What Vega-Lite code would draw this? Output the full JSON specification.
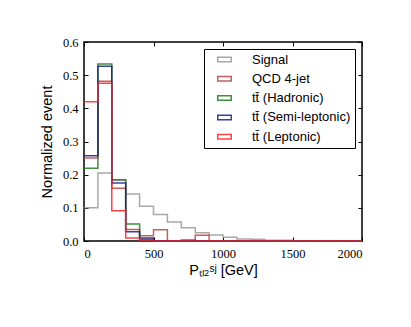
{
  "$schema": "https://vega.github.io/schema/vega-lite/v6.json",
  "width": 278,
  "height": 199,
  "autosize": {"type": "none"},
  "padding": {"left": 84, "top": 42, "right": 49, "bottom": 86},
  "background": "white",
  "config": {
    "view": {"stroke": "black", "strokeWidth": 1.5},
    "axis": {
      "domain": false, "grid": false, "tickColor": "black", "tickSize": -4, "tickWidth": 1,
      "labelColor": "black", "labelFont": "Liberation Serif", "labelFontSize": 12.5,
      "titleColor": "black", "titleFont": "Liberation Sans", "titleFontSize": 14.5, "titleFontWeight": "normal"
    },
    "legend": {
      "labelFont": "Liberation Sans", "labelFontSize": 13, "labelColor": "black"
    }
  },
  "data": {"values": [
    {"series": "Signal", "x": 0, "y": 0.100}, {"series": "Signal", "x": 100, "y": 0.205}, {"series": "Signal", "x": 200, "y": 0.183}, {"series": "Signal", "x": 300, "y": 0.142}, {"series": "Signal", "x": 400, "y": 0.105}, {"series": "Signal", "x": 500, "y": 0.080}, {"series": "Signal", "x": 600, "y": 0.057}, {"series": "Signal", "x": 700, "y": 0.040}, {"series": "Signal", "x": 800, "y": 0.025}, {"series": "Signal", "x": 900, "y": 0.018}, {"series": "Signal", "x": 1000, "y": 0.011}, {"series": "Signal", "x": 1100, "y": 0.006}, {"series": "Signal", "x": 1200, "y": 0.005}, {"series": "Signal", "x": 1300, "y": 0.002}, {"series": "Signal", "x": 1400, "y": 0.002}, {"series": "Signal", "x": 1500, "y": 0.001}, {"series": "Signal", "x": 1600, "y": 0.001}, {"series": "Signal", "x": 1700, "y": 0.001}, {"series": "Signal", "x": 1800, "y": 0.0}, {"series": "Signal", "x": 1900, "y": 0.0}, {"series": "Signal", "x": 2000, "y": 0.0},
    {"series": "QCD 4-jet", "x": 0, "y": 0.250}, {"series": "QCD 4-jet", "x": 100, "y": 0.482}, {"series": "QCD 4-jet", "x": 200, "y": 0.159}, {"series": "QCD 4-jet", "x": 300, "y": 0.035}, {"series": "QCD 4-jet", "x": 400, "y": 0.016}, {"series": "QCD 4-jet", "x": 500, "y": 0.034}, {"series": "QCD 4-jet", "x": 600, "y": 0.0}, {"series": "QCD 4-jet", "x": 700, "y": 0.0}, {"series": "QCD 4-jet", "x": 800, "y": 0.017}, {"series": "QCD 4-jet", "x": 900, "y": 0.0}, {"series": "QCD 4-jet", "x": 1000, "y": 0.0}, {"series": "QCD 4-jet", "x": 1100, "y": 0.0}, {"series": "QCD 4-jet", "x": 1200, "y": 0.0}, {"series": "QCD 4-jet", "x": 1300, "y": 0.0}, {"series": "QCD 4-jet", "x": 1400, "y": 0.0}, {"series": "QCD 4-jet", "x": 1500, "y": 0.0}, {"series": "QCD 4-jet", "x": 1600, "y": 0.0}, {"series": "QCD 4-jet", "x": 1700, "y": 0.0}, {"series": "QCD 4-jet", "x": 1800, "y": 0.0}, {"series": "QCD 4-jet", "x": 1900, "y": 0.0}, {"series": "QCD 4-jet", "x": 2000, "y": 0.0},
    {"series": "tt̄ (Hadronic)", "x": 0, "y": 0.219}, {"series": "tt̄ (Hadronic)", "x": 100, "y": 0.534}, {"series": "tt̄ (Hadronic)", "x": 200, "y": 0.185}, {"series": "tt̄ (Hadronic)", "x": 300, "y": 0.051}, {"series": "tt̄ (Hadronic)", "x": 400, "y": 0.005}, {"series": "tt̄ (Hadronic)", "x": 500, "y": 0.001}, {"series": "tt̄ (Hadronic)", "x": 600, "y": 0.0}, {"series": "tt̄ (Hadronic)", "x": 700, "y": 0.003}, {"series": "tt̄ (Hadronic)", "x": 800, "y": 0.0}, {"series": "tt̄ (Hadronic)", "x": 900, "y": 0.0}, {"series": "tt̄ (Hadronic)", "x": 1000, "y": 0.0}, {"series": "tt̄ (Hadronic)", "x": 1100, "y": 0.0}, {"series": "tt̄ (Hadronic)", "x": 1200, "y": 0.0}, {"series": "tt̄ (Hadronic)", "x": 1300, "y": 0.0}, {"series": "tt̄ (Hadronic)", "x": 1400, "y": 0.0}, {"series": "tt̄ (Hadronic)", "x": 1500, "y": 0.0}, {"series": "tt̄ (Hadronic)", "x": 1600, "y": 0.0}, {"series": "tt̄ (Hadronic)", "x": 1700, "y": 0.0}, {"series": "tt̄ (Hadronic)", "x": 1800, "y": 0.0}, {"series": "tt̄ (Hadronic)", "x": 1900, "y": 0.0}, {"series": "tt̄ (Hadronic)", "x": 2000, "y": 0.0},
    {"series": "tt̄ (Semi-leptonic)", "x": 0, "y": 0.257}, {"series": "tt̄ (Semi-leptonic)", "x": 100, "y": 0.527}, {"series": "tt̄ (Semi-leptonic)", "x": 200, "y": 0.175}, {"series": "tt̄ (Semi-leptonic)", "x": 300, "y": 0.028}, {"series": "tt̄ (Semi-leptonic)", "x": 400, "y": 0.009}, {"series": "tt̄ (Semi-leptonic)", "x": 500, "y": 0.001}, {"series": "tt̄ (Semi-leptonic)", "x": 600, "y": 0.0}, {"series": "tt̄ (Semi-leptonic)", "x": 700, "y": 0.0}, {"series": "tt̄ (Semi-leptonic)", "x": 800, "y": 0.0}, {"series": "tt̄ (Semi-leptonic)", "x": 900, "y": 0.0}, {"series": "tt̄ (Semi-leptonic)", "x": 1000, "y": 0.0}, {"series": "tt̄ (Semi-leptonic)", "x": 1100, "y": 0.0}, {"series": "tt̄ (Semi-leptonic)", "x": 1200, "y": 0.0}, {"series": "tt̄ (Semi-leptonic)", "x": 1300, "y": 0.0}, {"series": "tt̄ (Semi-leptonic)", "x": 1400, "y": 0.0}, {"series": "tt̄ (Semi-leptonic)", "x": 1500, "y": 0.0}, {"series": "tt̄ (Semi-leptonic)", "x": 1600, "y": 0.0}, {"series": "tt̄ (Semi-leptonic)", "x": 1700, "y": 0.0}, {"series": "tt̄ (Semi-leptonic)", "x": 1800, "y": 0.0}, {"series": "tt̄ (Semi-leptonic)", "x": 1900, "y": 0.0}, {"series": "tt̄ (Semi-leptonic)", "x": 2000, "y": 0.0},
    {"series": "tt̄ (Leptonic)", "x": 0, "y": 0.420}, {"series": "tt̄ (Leptonic)", "x": 100, "y": 0.476}, {"series": "tt̄ (Leptonic)", "x": 200, "y": 0.091}, {"series": "tt̄ (Leptonic)", "x": 300, "y": 0.009}, {"series": "tt̄ (Leptonic)", "x": 400, "y": 0.003}, {"series": "tt̄ (Leptonic)", "x": 500, "y": 0.0}, {"series": "tt̄ (Leptonic)", "x": 600, "y": 0.0}, {"series": "tt̄ (Leptonic)", "x": 700, "y": 0.0}, {"series": "tt̄ (Leptonic)", "x": 800, "y": 0.0}, {"series": "tt̄ (Leptonic)", "x": 900, "y": 0.0}, {"series": "tt̄ (Leptonic)", "x": 1000, "y": 0.0}, {"series": "tt̄ (Leptonic)", "x": 1100, "y": 0.0}, {"series": "tt̄ (Leptonic)", "x": 1200, "y": 0.0}, {"series": "tt̄ (Leptonic)", "x": 1300, "y": 0.0}, {"series": "tt̄ (Leptonic)", "x": 1400, "y": 0.0}, {"series": "tt̄ (Leptonic)", "x": 1500, "y": 0.0}, {"series": "tt̄ (Leptonic)", "x": 1600, "y": 0.0}, {"series": "tt̄ (Leptonic)", "x": 1700, "y": 0.0}, {"series": "tt̄ (Leptonic)", "x": 1800, "y": 0.0}, {"series": "tt̄ (Leptonic)", "x": 1900, "y": 0.0}, {"series": "tt̄ (Leptonic)", "x": 2000, "y": 0.0}
  ]},
  "layer": [
    {
      "mark": {"type": "line", "interpolate": "step-after", "strokeWidth": 1.5, "opacity": 0.85},
      "encoding": {
        "x": {"field": "x", "type": "quantitative", "scale": {"domain": [0, 2000], "nice": false},
              "axis": {"orient": "bottom", "values": [0, 500, 1000, 1500, 2000], "format": "d", "labelPadding": 10, "title": "Pₜₗ₂ˢʲ [GeV]", "titlePadding": 4}},
        "y": {"field": "y", "type": "quantitative", "scale": {"domain": [0, 0.6], "nice": false},
              "axis": {"orient": "left", "values": [0, 0.1, 0.2, 0.3, 0.4, 0.5, 0.6], "format": ".1f", "labelPadding": 10, "title": "Normalized event", "titlePadding": 8}},
        "color": {"field": "series", "type": "nominal", "sort": null,
                  "scale": {"domain": ["Signal", "QCD 4-jet", "tt̄ (Hadronic)", "tt̄ (Semi-leptonic)", "tt̄ (Leptonic)"],
                            "range": ["#999999", "#b84444", "#1f7a1f", "#1c1c8c", "#ff2020"]},
                  "legend": {"title": null, "orient": "top-right", "offset": 7, "padding": 4,
                             "strokeColor": "black", "fillColor": "white", "cornerRadius": 0,
                             "symbolType": "M-1.5,-0.5H1.5V0.5H-1.5Z", "symbolSize": 81,
                             "symbolStrokeWidth": 1.5, "symbolFillColor": "transparent",
                             "symbolOffset": 10, "labelOffset": 21, "rowPadding": 5.3}}
      }
    },
    {
      "mark": {"type": "line", "opacity": 0},
      "encoding": {
        "x": {"field": "x", "type": "quantitative", "axis": {"orient": "top", "values": [0, 500, 1000, 1500, 2000], "labels": false, "title": null}},
        "y": {"field": "y", "type": "quantitative", "axis": {"orient": "right", "values": [0, 0.1, 0.2, 0.3, 0.4, 0.5, 0.6], "labels": false, "title": null}}
      }
    }
  ],
  "resolve": {"axis": {"x": "independent", "y": "independent"}}
}
